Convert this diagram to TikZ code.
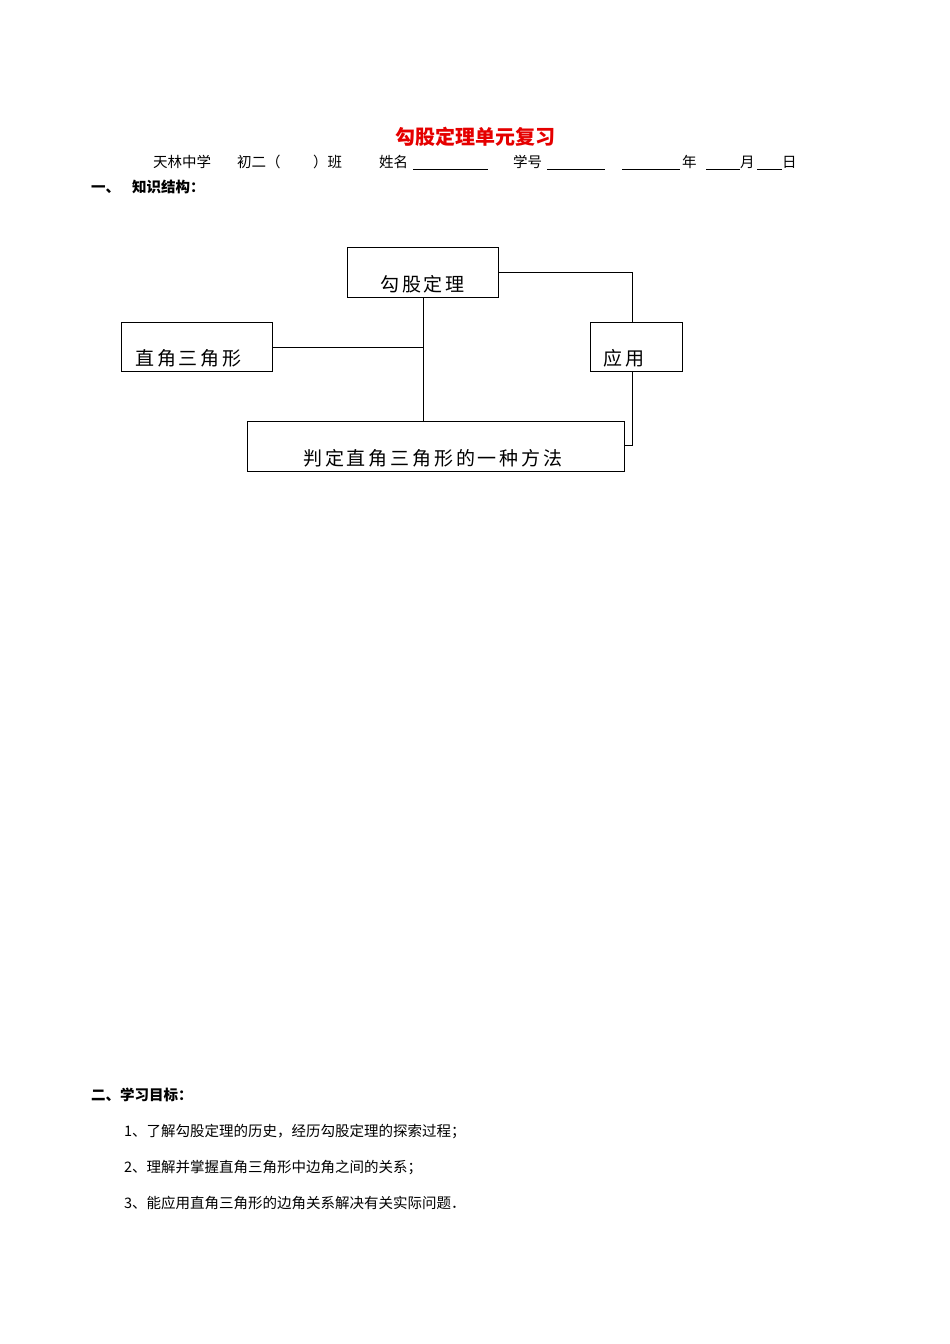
\documentclass[tikz,border=0pt]{standalone}
\usepackage{fontspec}
\setmainfont{Noto Sans CJK SC}
\newfontfamily\boxfont[LetterSpace=15]{Noto Sans CJK SC}
\begin{document}
\begin{tikzpicture}[x=1pt,y=-1pt,
  box/.style={draw,line width=0.9pt,anchor=north west,inner sep=0pt},
  bt/.style={font=\boxfont\fontsize{19}{19}\selectfont,anchor=base west,inner sep=0pt},
  tx/.style={font=\fontsize{14.5}{14.5}\selectfont,anchor=base west,inner sep=0pt},
  ul/.style={line width=0.8pt},
  link/.style={line width=0.9pt}]
\useasboundingbox (0,0) rectangle (950,1344);
% header
\node[font=\bfseries\fontsize{20}{20}\selectfont,text=red!90!black,inner sep=0pt] (title) at (475,137) {勾股定理单元复习};
\node[tx] (h1) at (153,167) {天林中学};
\node[tx] (h2) at (237,167) {初二（};
\node[tx] (h3) at (313,167) {）班};
\node[tx] (h4) at (379,167) {姓名};
\draw[ul] (413,169) -- (488,169);
\node[tx] (h5) at (513,167) {学号};
\draw[ul] (547,169) -- (605,169);
\draw[ul] (622,169) -- (680,169);
\node[tx] (h6) at (682,167) {年};
\draw[ul] (706,169) -- (740,169);
\node[tx] (h7) at (740,167) {月};
\draw[ul] (757,169) -- (782,169);
\node[tx] (h8) at (782,167) {日};
\node[tx,font=\bfseries\fontsize{14.5}{14.5}\selectfont] (s1) at (91,192) {一、\hspace{12pt}知识结构：};
% diagram
\node[box,minimum width=151pt,minimum height=50pt] (gg) at (347,247) {};
\node[bt] at (380,291) {勾股定理};
\node[box,minimum width=151pt,minimum height=49pt] (zj) at (121,322) {};
\node[bt] at (135,365) {直角三角形};
\node[box,minimum width=92pt,minimum height=49pt] (yy) at (590,322) {};
\node[bt] at (603,365) {应用};
\node[box,minimum width=377pt,minimum height=50pt] (pd) at (247,421) {};
\node[bt] at (303,465) {判定直角三角形的一种方法};
\coordinate (rt) at (632,271);
\coordinate (rb) at (632,445);
\draw[link] (gg.south) -- (gg.south |- pd.north);
\draw[link] (zj.east) -- (gg.south |- zj.east);
\draw[link] (gg.east) -| (rt |- yy.north);
\draw[link] (rt |- yy.south) -- (rb) -- (pd.east |- rb);
% section 2
\node[tx,font=\bfseries\fontsize{14.5}{14.5}\selectfont] (s2) at (91,1100) {二、学习目标：};
\node[tx] (g1) at (124,1136) {1、了解勾股定理的历史，经历勾股定理的探索过程；};
\node[tx] (g2) at (124,1172) {2、理解并掌握直角三角形中边角之间的关系；};
\node[tx] (g3) at (124,1208) {3、能应用直角三角形的边角关系解决有关实际问题．};
\end{tikzpicture}
\end{document}
